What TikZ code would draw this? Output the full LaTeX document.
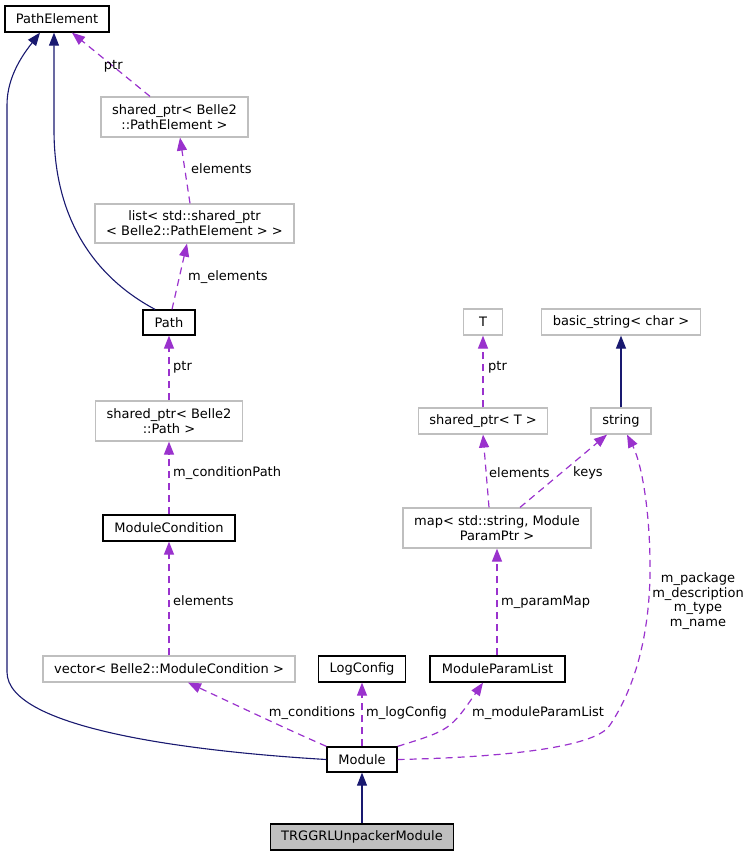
\documentclass[tikz,border=0pt]{standalone}
\usepackage{fontspec}
\setmainfont{DejaVu Sans}
\usetikzlibrary{arrows.meta}
\definecolor{inhblue}{HTML}{191970}
\definecolor{usepurple}{HTML}{9A32CD}
\definecolor{grayedge}{HTML}{BFBFBF}
\definecolor{targetfill}{HTML}{BFBFBF}
\tikzset{
  txt/.style={font=\fontsize{13}{15}\selectfont, text=black},
  box/.style={txt, draw=black, line width=1.3pt, inner sep=0pt, align=center, fill=white},
  gbox/.style={txt, draw=grayedge, line width=1.2pt, inner sep=0pt, align=center, fill=white},
  tbox/.style={box, fill=targetfill},
  inh/.style={draw=inhblue, line width=1.1pt, -{Triangle[length=13pt,width=10pt]}},
  use/.style={draw=usepurple, line width=1.2pt, dash pattern=on 7pt off 5pt, -{Triangle[length=13pt,width=10pt,fill=usepurple]}},
  elab/.style={txt, inner sep=0pt, align=center}
}
\begin{document}
\begin{tikzpicture}[x=1pt,y=-1pt]
\useasboundingbox (0,0) rectangle (752,856);
% nodes
\node[box, minimum width=104pt, minimum height=26pt] (pe) at (57,19) {PathElement};
\node[gbox, minimum width=147pt, minimum height=40pt] (sppe) at (174.5,117) {shared\_ptr< Belle2\\::PathElement >};
\node[gbox, minimum width=199pt, minimum height=39pt] (list) at (194.5,223.5) {list< std::shared\_ptr\\< Belle2::PathElement > >};
\node[box, minimum width=52pt, minimum height=25pt] (path) at (169,322.5) {Path};
\node[gbox, minimum width=147pt, minimum height=40pt] (sppath) at (169,421) {shared\_ptr< Belle2\\::Path >};
\node[box, minimum width=132pt, minimum height=26pt] (mc) at (169,528) {ModuleCondition};
\node[gbox, minimum width=252pt, minimum height=26pt] (vec) at (169,669) {vector< Belle2::ModuleCondition >};
\node[box, minimum width=87pt, minimum height=26pt] (log) at (362,669) {LogConfig};
\node[box, minimum width=135pt, minimum height=26pt] (mpl) at (497.5,669) {ModuleParamList};
\node[box, minimum width=70pt, minimum height=25pt] (mod) at (362,759.5) {Module};
\node[tbox, minimum width=183pt, minimum height=26pt] (trg) at (362,837) {TRGGRLUnpackerModule};
\node[gbox, minimum width=39pt, minimum height=26pt] (T) at (483,322) {T};
\node[gbox, minimum width=159pt, minimum height=26pt] (bs) at (621,322) {basic\_string< char >};
\node[gbox, minimum width=129pt, minimum height=26pt] (spT) at (483,421) {shared\_ptr< T >};
\node[gbox, minimum width=60pt, minimum height=26pt] (str) at (621,421) {string};
\node[gbox, minimum width=188pt, minimum height=40pt] (map) at (497,528) {map< std::string, Module\\ParamPtr >};
% inheritance edges
\draw[inh] (trg.north) -- (mod.south);
\draw[inh] (str.north) -- (bs.south);
\draw[inh] ([xshift=-14pt]path.north) .. controls (100,280) and (54,225) .. (54,130) -- ([xshift=-3pt]pe.south);
\draw[inh] (mod.west) .. controls (200,752) and (7,730) .. (7,672) -- (7,105) .. controls (7,75) and (25,52) .. ([xshift=-17pt]pe.south);
% usage edges
\draw[use] ([xshift=-24.5pt]sppe.north) -- ([xshift=15pt]pe.south) node[elab, pos=0.47] (l1) {ptr};
\draw[use] ([xshift=-4.5pt]list.north) -- ([xshift=5.5pt]sppe.south);
\node[elab, anchor=west] (l2) at (191,169) {elements};
\draw[use] ([xshift=3pt]path.north) -- ([xshift=-7.5pt]list.south);
\node[elab, anchor=west] (l3) at (188,277) {m\_elements};
\draw[use] (sppath.north) -- (path.south);
\node[elab, anchor=west] (l4) at (173,367) {ptr};
\draw[use] (mc.north) -- (sppath.south);
\node[elab, anchor=west] (l5) at (173,473) {m\_conditionPath};
\draw[use] (vec.north) -- (mc.south);
\node[elab, anchor=west] (l6) at (173,601) {elements};
\draw[use] (mod.north west) .. controls (285,728) .. ([xshift=19pt]vec.south);
\node[elab] (l7) at (312,713) {m\_conditions};
\draw[use] (mod.north) -- (log.south);
\node[elab, anchor=west] (l8) at (366,713) {m\_logConfig};
\draw[use] (mod.north east) .. controls (450,730) .. ([xshift=-14.5pt]mpl.south);
\node[elab, anchor=west] (l9) at (472,713) {m\_moduleParamList};
\draw[use] (mpl.north -| map.south) -- (map.south);
\node[elab, anchor=west] (l10) at (501,602) {m\_paramMap};
\draw[use] ([xshift=-8pt]map.north) -- (spT.south);
\node[elab, anchor=west] (l11) at (489,473) {elements};
\draw[use] ([xshift=23pt]map.north) -- ([xshift=-14pt]str.south);
\node[elab, anchor=west] (l12) at (573,473) {keys};
\draw[use] (spT.north) -- (T.south);
\draw[use] (mod.east) .. controls (520,757) and (598,745) .. (610,725) .. controls (640,680) and (651,620) .. (650,560) .. controls (649,500) and (640,460) .. ([xshift=6pt]str.south);
\node[elab, anchor=west] (l13) at (488,367) {ptr};
\node[elab, align=center, font=\fontsize{13}{14.6}\selectfont] (l14) at (698,601) {m\_package\\m\_description\\m\_type\\m\_name};
\end{tikzpicture}
\end{document}
